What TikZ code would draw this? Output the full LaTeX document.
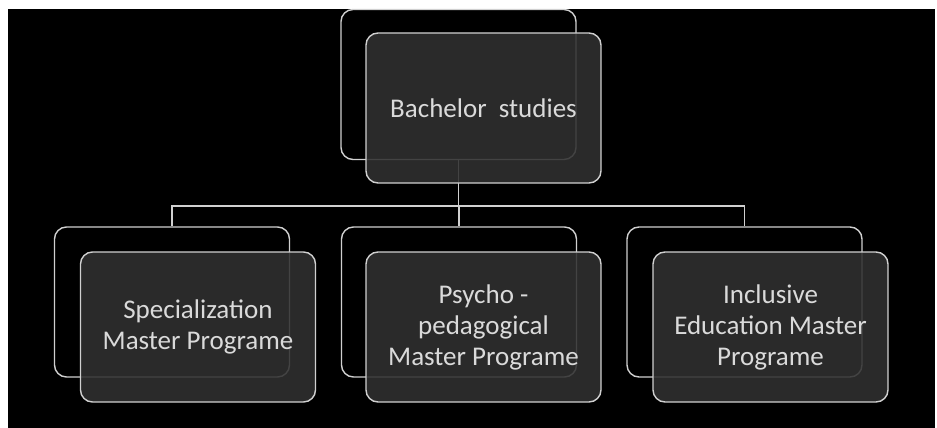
\documentclass[tikz,border=0pt]{standalone}
\usepackage{fontspec}
\setmainfont{Carlito}
\usepackage{tikz}
\definecolor{linegray}{HTML}{D0D0D0}
\definecolor{fillgray}{HTML}{303030}
\definecolor{textgray}{HTML}{DADADA}

\begin{document}
\begin{tikzpicture}[x=1pt, y=-1pt, node distance=0pt]
%define
\tikzstyle{state_back} = [rectangle, rounded corners=12pt, minimum width=235pt, minimum height=150pt, draw=linegray, line width=1.4pt]
\tikzstyle{state_front} = [rectangle, rounded corners=12pt, minimum width=235pt, minimum height=150pt, draw=linegray, line width=1.4pt, fill=fillgray, fill opacity=0.88, text opacity=1, text=textgray, text centered, align=center, font=\fontsize{27}{31}\selectfont]
\tikzstyle{line} = [draw=linegray, line width=1.4pt]

%background
\useasboundingbox (0,0) rectangle (937,428);
\fill[white](0,0)rectangle(937,428);
\fill[black](8,9)rectangle(935,428);

%back boxes
\node[state_back](back_Bachelor) at (458.5,84.5){};
\node[state_back](back_Spec) at (172,302){};
\node[state_back](back_Psycho) at (459,302){};
\node[state_back](back_Incl) at (744.5,302){};

%line
\coordinate (junction) at (458.5,206);
\draw[line](back_Bachelor.south)--(junction);
\draw[line](junction)-|(back_Spec.north);
\draw[line](junction)-|(back_Incl.north);
\draw[line](junction)-|(back_Psycho.north);

%front boxes
\node[state_front, right of = back_Bachelor, xshift = 25pt, yshift = -23.5pt](state_Bachelor){Bachelor\ \ studies};
\node[state_front, right of = back_Spec, xshift = 26pt, yshift = -25pt](state_Spec){Specialization\\Master Programe};
\node[state_front, right of = back_Psycho, xshift = 24.5pt, yshift = -25pt](state_Psycho){Psycho -\\pedagogical\\Master Programe};
\node[state_front, right of = back_Incl, xshift = 26pt, yshift = -25pt](state_Incl){Inclusive\\Education Master\\Programe};

\end{tikzpicture}
\end{document}
